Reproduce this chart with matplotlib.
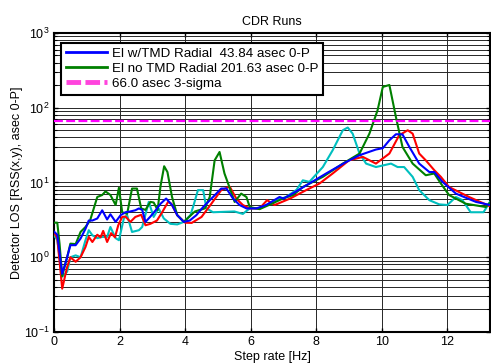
import matplotlib
matplotlib.use("Agg")
import matplotlib.pyplot as plt
from matplotlib.lines import Line2D
from matplotlib.ticker import LogLocator, FixedLocator, NullFormatter

plt.rcParams['font.family'] = ['Liberation Sans', 'DejaVu Sans']

# ---- data ----
green_f = [0, 0.1, 0.17, 0.25, 0.4, 0.5, 0.66, 0.81, 0.96, 1.1, 1.32, 1.47, 1.57, 1.72, 1.88, 1.98,
           2.08, 2.23, 2.38, 2.53, 2.66, 2.79, 2.94, 3.04, 3.16, 3.25, 3.36, 3.46, 3.6, 3.76, 3.96,
           4.16, 4.3, 4.6, 4.75, 4.9, 5.05, 5.2, 5.31, 5.51, 5.71, 5.87, 5.97, 6.27, 6.6, 6.98, 7.3,
           7.59, 8.2, 8.81, 9.32, 9.62, 9.87, 10.03, 10.23, 10.43, 10.63, 10.94, 11.34, 11.6, 11.8,
           12.05, 12.56, 13.17, 13.3]
green_v = [2.9, 2.9, 1.5, 0.56, 1.0, 1.52, 1.5, 2.18, 2.54, 3.1, 6.4, 6.8, 7.6, 6.8, 5.0, 8.5,
           4.0, 3.8, 8.3, 8.3, 4.5, 4.3, 5.5, 5.4, 4.3, 9.0, 16.5, 13.8, 6.4, 3.65, 2.97,
           3.6, 4.1, 4.5, 6.4, 19.8, 25.6, 13.2, 9.7, 5.5, 7.1, 6.4, 4.7, 4.4, 5.1, 6.1, 6.8,
           8.7, 11.9, 17.9, 24.4, 45, 92.6, 190, 201.6, 75, 29.9, 17.9, 12.5, 13.2, 9.7,
           6.8, 5.2, 4.7, 5.4]

blue_f = [0, 0.1, 0.25, 0.4, 0.5, 0.66, 0.81, 0.96, 1.06, 1.17, 1.32, 1.47, 1.62, 1.72, 1.88,
          2.03, 2.18, 2.33, 2.48, 2.59, 2.69, 2.79, 2.94, 3.1, 3.25, 3.42, 3.6, 3.76, 3.96, 4.14,
          4.34, 4.55, 4.85, 5.1, 5.26, 5.46, 5.66, 5.87, 6.17, 6.47, 6.88, 7.0, 7.25, 7.79, 8.3,
          8.91, 9.32, 9.82, 10.03, 10.23, 10.43, 10.63, 10.84, 11.14, 11.45, 11.6, 11.85, 12.26,
          12.87, 13.3]
blue_v = [2.2, 2.0, 0.6, 1.0, 1.45, 1.45, 1.78, 2.4, 3.1, 3.1, 3.3, 4.25, 3.2, 3.76, 2.97,
          3.65, 4.0, 4.1, 4.25, 4.5, 4.3, 2.97, 3.5, 4.25, 5.2, 6.1, 5.0, 3.65, 2.97, 3.1,
          3.65, 4.7, 6.4, 8.3, 8.3, 6.1, 5.0, 4.5, 4.5, 5.0, 6.4, 6.1, 7.0, 9.7, 13.2,
          18.8, 23.2, 27.6, 28.8, 36.7, 44.2, 44.0, 29.9, 17.9, 13.8, 13.8, 10.2, 7.1,
          5.5, 5.0]

red_f = [0, 0.1, 0.25, 0.4, 0.5, 0.66, 0.81, 0.96, 1.06, 1.17, 1.32, 1.42, 1.5, 1.62, 1.74, 1.86,
         1.96, 2.08, 2.18, 2.33, 2.48, 2.66, 2.79, 2.94, 3.14, 3.3, 3.48, 3.58, 3.76, 4.0, 4.2,
         4.5, 4.8, 5.1, 5.36, 5.56, 5.76, 5.97, 6.27, 6.5, 6.73, 7.2, 7.69, 8.1, 8.5, 9.0, 9.42,
         9.82, 10.23, 10.53, 10.79, 10.94, 11.14, 11.34, 11.6, 11.8, 12.05, 12.66, 13.17, 13.3]
red_v = [2.15, 1.8, 0.38, 0.74, 1.0, 0.87, 1.0, 1.37, 1.87, 1.6, 2.0, 1.85, 2.25, 1.6, 2.1, 1.85,
         2.68, 3.46, 3.5, 2.97, 3.46, 3.7, 2.68, 2.8, 3.1, 4.0, 5.5, 5.2, 3.65, 2.9, 2.88,
         3.46, 5.2, 7.9, 8.8, 6.1, 5.0, 4.5, 4.5, 5.8, 5.0, 6.1, 7.9, 9.7, 13.2, 19.8, 22.0,
         17.9, 24.4, 42.9, 50.0, 45.0, 24.4, 19.8, 14.6, 11.9, 8.7, 6.4, 5.1, 4.8]

cyan_f = [0, 0.1, 0.25, 0.4, 0.5, 0.66, 0.81, 0.96, 1.06, 1.17, 1.32, 1.47, 1.62, 1.72, 1.88, 1.98,
          2.13, 2.23, 2.38, 2.59, 2.69, 2.89, 3.04, 3.19, 3.35, 3.55, 3.76, 3.96, 4.16, 4.26, 4.39,
          4.55, 4.65, 4.85, 5.5, 5.76, 5.97, 6.27, 6.6, 6.78, 7.08, 7.4, 7.59, 7.79, 8.2, 8.5,
          8.81, 8.96, 9.11, 9.32, 9.52, 9.82, 10.28, 10.48, 10.68, 10.94, 11.14, 11.45, 11.75,
          12.0, 12.26, 12.46, 12.71, 13.1, 13.3]
cyan_v = [1.97, 1.7, 0.55, 0.64, 1.0, 1.06, 1.0, 1.69, 2.3, 1.97, 1.8, 1.87, 1.87, 2.54, 1.8, 1.69,
          3.3, 3.65, 2.18, 2.3, 2.54, 5.5, 3.46, 4.5, 3.3, 2.8, 2.75, 2.97, 3.65, 5.0, 7.9,
          7.9, 4.5, 4.0, 4.1, 3.8, 4.5, 4.5, 5.3, 5.8, 6.4, 8.0, 10.7, 10.2, 16.1, 27.0,
          50.0, 54.4, 45.0, 24.4, 17.9, 16.1, 17.9, 16.1, 16.1, 11.9, 7.9, 5.8, 5.1,
          5.0, 6.4, 5.8, 4.0, 4.0, 5.5]

limit_value = 66.0
legend_labels = ["El w/TMD Radial  43.84 asec 0-P",
                 "El no TMD Radial 201.63 asec 0-P",
                 "66.0 asec 3-sigma"]
x_ticks = [0, 2, 4, 6, 8, 10, 12]

# ---- figure ----
fig = plt.figure(figsize=(4.91, 3.63), dpi=100)
ax = fig.add_axes([0.110, 0.0854, 0.888, 0.8237])

lw = 1.5
ax.plot(cyan_f, cyan_v, color='#00bfbf', lw=lw, zorder=3)
ax.plot(red_f, red_v, color='#ff0000', lw=lw, zorder=3)
ax.plot(green_f, green_v, color='#008000', lw=lw, zorder=3)
ax.plot(blue_f, blue_v, color='#0000ff', lw=lw, zorder=4)
ax.axhline(limit_value, color='#ff00ff', lw=1.6, dashes=(4, 1.5), zorder=3)

ax.set_yscale('log')
ax.set_ylim(0.1, 1000)
ax.set_xlim(0, 13.3)
ax.xaxis.set_major_locator(FixedLocator(x_ticks))
ax.yaxis.set_major_locator(LogLocator(base=10, numticks=10))
ax.yaxis.set_minor_locator(LogLocator(base=10, subs=range(2, 10), numticks=10))
ax.yaxis.set_minor_formatter(NullFormatter())

ax.grid(True, which='major', axis='both', color='0.15', lw=0.7)
ax.grid(True, which='minor', axis='y', color='0.15', lw=0.7)
ax.set_axisbelow(True)

ax.tick_params(which='both', direction='in', top=True, right=True, labelsize=9,
               colors='black', pad=3)
ax.tick_params(which='major', length=3, width=1)
ax.tick_params(which='minor', length=2, width=0.8)
for s in ax.spines.values():
    s.set_linewidth(1.5)
    s.set_color('black')

ax.set_title("CDR Runs", fontsize=9, pad=6)
ax.set_xlabel("Step rate [Hz]", fontsize=9, labelpad=2)
ax.set_ylabel("Detector LOS [RSS(x,y), asec 0-P]", fontsize=9, labelpad=1)

handles = [Line2D([], [], color='#0000ff', lw=2),
           Line2D([], [], color='#008000', lw=2),
           Line2D([], [], color='#ff44dd', lw=3.5, dashes=(3, 0.9))]
leg = ax.legend(handles, legend_labels, loc='upper left', bbox_to_anchor=(0.016, 0.967),
                fontsize=9.6, frameon=True, fancybox=False, framealpha=1,
                edgecolor='black', borderpad=0.35, labelspacing=0.2,
                handlelength=3.1, handletextpad=0.35, borderaxespad=0)
leg.get_frame().set_linewidth(1.5)
leg.set_zorder(10)

fig.savefig("out.png", dpi=100)
